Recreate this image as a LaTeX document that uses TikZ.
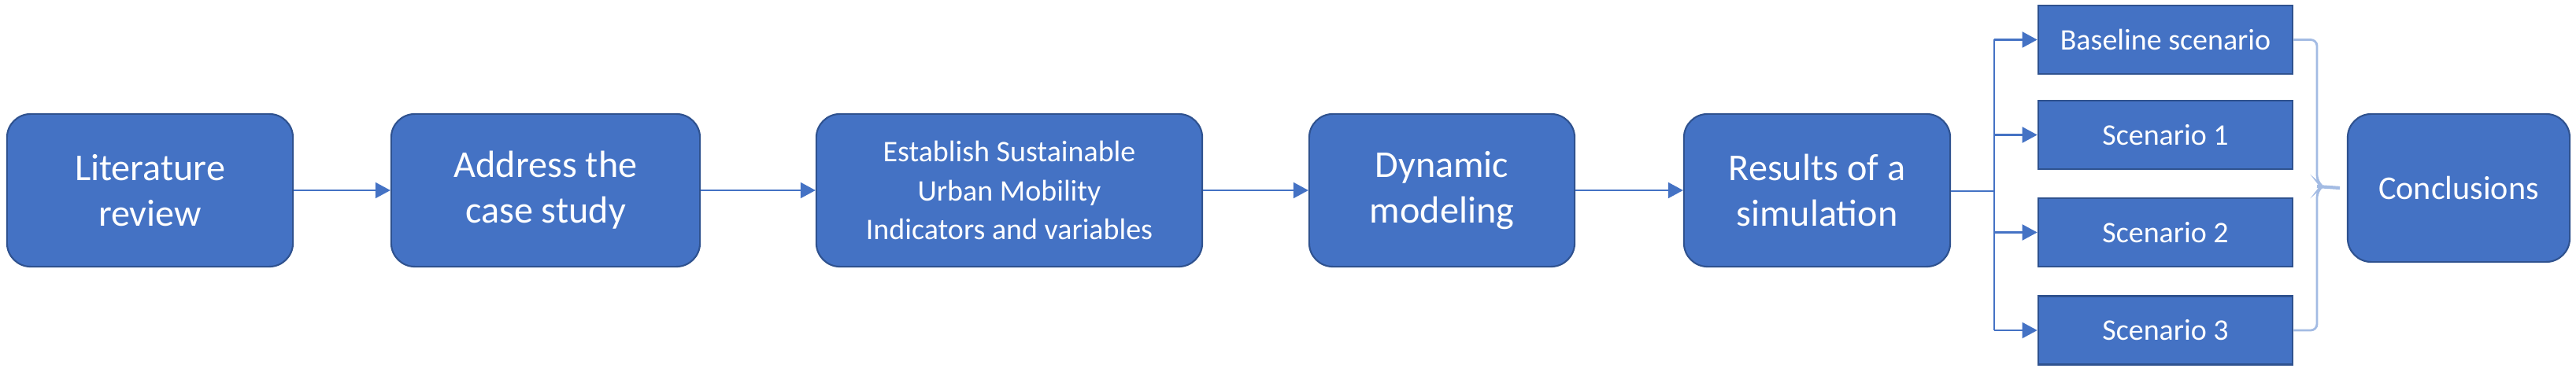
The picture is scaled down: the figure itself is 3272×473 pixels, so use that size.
\documentclass[tikz,border=0pt]{standalone}
\usepackage{fontspec}
\setmainfont{Carlito}
\usetikzlibrary{arrows.meta}
\definecolor{boxfill}{HTML}{4472C4}
\definecolor{boxline}{HTML}{2F528F}
\definecolor{bracecol}{HTML}{A3BBE3}
\tikzset{
  mainbox/.style={draw=boxline, fill=boxfill, line width=0.6pt, rounded corners=0.3cm,
    inner sep=0pt, align=center, text=white, minimum height=1.94cm,
    font=\fontsize{13.7pt}{16.5pt}\selectfont},
  scenbox/.style={draw=boxline, fill=boxfill, line width=0.7pt, inner sep=0pt,
    align=center, text=white, minimum width=3.23cm, minimum height=0.87cm,
    font=\fontsize{10.8pt}{13pt}\selectfont},
  arr/.style={draw=boxfill, line width=0.6pt, -{Triangle[length=0.19cm, width=0.2cm]}},
  conn/.style={draw=boxfill, line width=0.6pt},
}
\begin{document}
\begin{tikzpicture}[x=0.01cm, y=-0.01cm]
\useasboundingbox (0,0) rectangle (3272,473);
\node[mainbox, minimum width=3.63cm] (lit) at (190.5,242) {Literature\\review};
\node[mainbox, minimum width=3.92cm] (addr) at (693,242) {Address the\\case study};
\node[mainbox, minimum width=4.90cm, font=\fontsize{10.8pt}{14.2pt}\selectfont] (est) at (1282,242) {Establish Sustainable\\Urban Mobility\\Indicators and variables};
\node[mainbox, minimum width=3.37cm] (dyn) at (1831.5,242) {Dynamic\\modeling};
\node[mainbox, minimum width=3.38cm] (res) at (2308,242) {Results of a\\simulation};
\node[scenbox] (s0) at (2750.5,50.5) {Baseline scenario};
\node[scenbox] (s1) at (2750.5,171.5) {Scenario 1};
\node[scenbox] (s2) at (2750.5,295.5) {Scenario 2};
\node[scenbox] (s3) at (2750.5,420) {Scenario 3};
\node[mainbox, minimum width=2.82cm, minimum height=1.88cm, font=\fontsize{12pt}{14pt}\selectfont] (con) at (3123,239) {Conclusions};
\draw[arr] (lit) -- (addr);
\draw[arr] (addr) -- (est);
\draw[arr] (est) -- (dyn);
\draw[arr] (dyn) -- (res);
\coordinate (j) at (2533,243);
\draw[conn] (res.east |- j) -- (j);
\draw[conn] (j |- s0.west) -- (j |- s3.west);
\draw[arr] (j |- s0.west) -- (s0.west);
\draw[arr] (j |- s1.west) -- (s1.west);
\draw[arr] (j |- s2.west) -- (s2.west);
\draw[arr] (j |- s3.west) -- (s3.west);
\coordinate (bt) at (2943,237);
\draw[draw=bracecol, line width=0.8pt, rounded corners=0.08cm]
  (s0.east) -- (bt |- s0.east) -- ([yshift=0.06cm]bt) -- ([xshift=0.07cm]bt) -- ([yshift=-0.06cm]bt) -- (bt |- s3.east) -- (s3.east);
\draw[draw=bracecol, line width=1.2pt] (bt) -- (con.west -| 2972,0);
\end{tikzpicture}
\end{document}
